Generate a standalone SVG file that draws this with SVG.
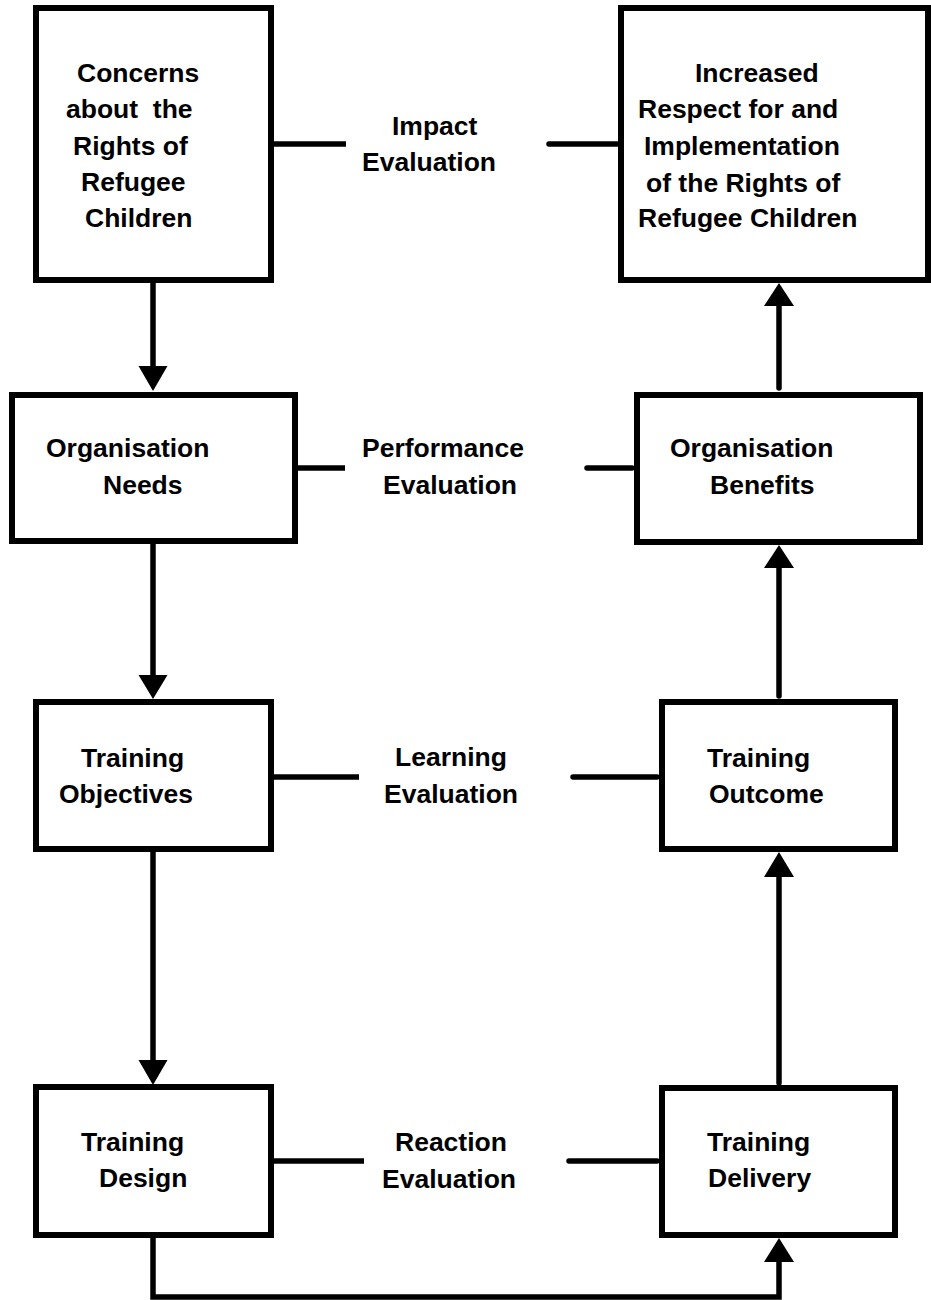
<svg xmlns="http://www.w3.org/2000/svg" width="931" height="1300" viewBox="0 0 931 1300">
<style>
.box{fill:#fff;stroke:#000;stroke-width:6}
.ln{fill:none;stroke:#000;stroke-width:5.5;stroke-linecap:round}
.ah{fill:#000}
text{font-family:"Liberation Sans",Arial,sans-serif;font-weight:bold;font-size:26.5px;fill:#000}
</style>
<rect width="931" height="1300" fill="#fff"/>
<g id="connectors">
  <line class="ln" x1="153" y1="283" x2="153" y2="370"/>
  <polygon class="ah" points="138.5,366 167.5,366 153,391"/>
  <line class="ln" x1="153" y1="544" x2="153" y2="679"/>
  <polygon class="ah" points="138.5,675 167.5,675 153,699"/>
  <line class="ln" x1="153" y1="852" x2="153" y2="1064"/>
  <polygon class="ah" points="138.5,1060 167.5,1060 153,1085"/>
  <path class="ln" d="M153,1238 V1297 H779 V1258" style="stroke-linecap:butt"/>
  <polygon class="ah" points="764,1262 794,1262 779,1238"/>
  <line class="ln" x1="779" y1="1083" x2="779" y2="873"/>
  <polygon class="ah" points="764,877 794,877 779,852"/>
  <line class="ln" x1="779" y1="696" x2="779" y2="564"/>
  <polygon class="ah" points="764,568 794,568 779,545"/>
  <line class="ln" x1="779" y1="388" x2="779" y2="302"/>
  <polygon class="ah" points="764,306 794,306 779,283"/>
  <line class="ln" x1="274" y1="144" x2="346" y2="144" style="stroke-linecap:butt"/>
  <line class="ln" x1="549" y1="144" x2="617" y2="144"/>
  <line class="ln" x1="298" y1="468" x2="345" y2="468" style="stroke-linecap:butt"/>
  <line class="ln" x1="587" y1="468" x2="632" y2="468"/>
  <line class="ln" x1="274" y1="777" x2="359" y2="777" style="stroke-linecap:butt"/>
  <line class="ln" x1="573" y1="777" x2="657" y2="777"/>
  <line class="ln" x1="274" y1="1161" x2="364" y2="1161" style="stroke-linecap:butt"/>
  <line class="ln" x1="569" y1="1161" x2="657" y2="1161"/>
</g>
<g id="concerns">
  <rect class="box" x="36" y="8" width="235" height="272"/>
  <text x="77" y="82">Concerns</text>
  <text x="66" y="118" xml:space="preserve">about  the</text>
  <text x="73" y="155">Rights of</text>
  <text x="81" y="191">Refugee</text>
  <text x="85" y="227">Children</text>
</g>
<g id="increased">
  <rect class="box" x="621" y="8" width="307" height="272"/>
  <text x="695" y="82">Increased</text>
  <text x="638" y="118">Respect for and</text>
  <text x="644" y="155">Implementation</text>
  <text x="646" y="192">of the Rights of</text>
  <text x="638" y="227">Refugee Children</text>
</g>
<g id="impact">
  <text x="392" y="135">Impact</text>
  <text x="362" y="171">Evaluation</text>
</g>
<g id="org-needs">
  <rect class="box" x="12" y="395" width="283" height="146"/>
  <text x="46" y="457">Organisation</text>
  <text x="103" y="494">Needs</text>
</g>
<g id="performance">
  <text x="362" y="457">Performance</text>
  <text x="383" y="494">Evaluation</text>
</g>
<g id="org-benefits">
  <rect class="box" x="637" y="395" width="283" height="147"/>
  <text x="670" y="457">Organisation</text>
  <text x="710" y="494">Benefits</text>
</g>
<g id="objectives">
  <rect class="box" x="36" y="702" width="235" height="147"/>
  <text x="81" y="767">Training</text>
  <text x="59" y="803">Objectives</text>
</g>
<g id="learning">
  <text x="395" y="766">Learning</text>
  <text x="384" y="803">Evaluation</text>
</g>
<g id="outcome">
  <rect class="box" x="662" y="702" width="233" height="147"/>
  <text x="707" y="767">Training</text>
  <text x="709" y="803">Outcome</text>
</g>
<g id="design">
  <rect class="box" x="36" y="1087" width="235" height="148"/>
  <text x="81" y="1151">Training</text>
  <text x="99" y="1187">Design</text>
</g>
<g id="reaction">
  <text x="395" y="1151">Reaction</text>
  <text x="382" y="1188">Evaluation</text>
</g>
<g id="delivery">
  <rect class="box" x="662" y="1088" width="233" height="147"/>
  <text x="707" y="1151">Training</text>
  <text x="708" y="1187">Delivery</text>
</g>
</svg>
